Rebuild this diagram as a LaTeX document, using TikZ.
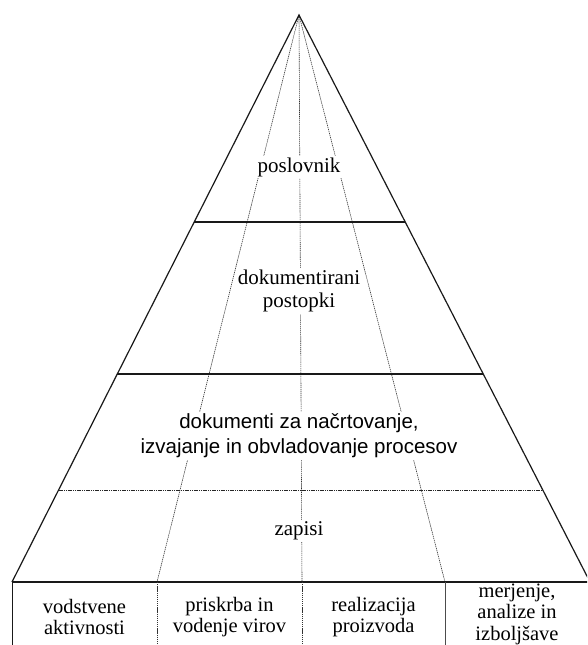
\documentclass[tikz,border=0pt]{standalone}
\usepackage{fontspec}
\setmainfont{Liberation Serif}
\newfontfamily\sansf{Liberation Sans}
\usetikzlibrary{calc}
\begin{document}
\begin{tikzpicture}[x=1pt,y=-1pt,
  edge/.style={line width=1.2pt,black!90},
  ray/.style={line width=0.6pt,black!80,dash pattern=on 1.3pt off 0.8pt},
  dotline/.style={line width=0.9pt,black!85,dash pattern=on 1.2pt off 0.6pt},
  thinsolid/.style={line width=0.7pt,black!70},
  lbl/.style={fill=white,inner sep=1.5pt,align=center,font=\fontsize{21}{23}\selectfont},
  slbl/.style={fill=white,inner sep=1.5pt,align=center,font=\sansf\fontsize{20.5}{25}\selectfont},
  cell/.style={inner sep=0pt,align=center,font=\fontsize{20.5}{21.5}\selectfont}]
\useasboundingbox (0,0) rectangle (587,645);
\fill[white] (0,0) rectangle (587,645);
\begin{scope}
\clip (0,0) rectangle (587,645);
% key points
\coordinate (apex) at (299,15);
\coordinate (bl) at (12,582);
\coordinate (br) at (590,582);
\coordinate (r1) at (157,582);
\coordinate (r2) at (302,582);
\coordinate (r3) at (445,582);
\coordinate (b0) at (12,645);
\coordinate (b1) at (157,645);
\coordinate (b2) at (302,645);
\coordinate (b3) at (445,645);
\coordinate (l1) at ($(apex)!0.3651!(bl)$);
\coordinate (m1) at ($(apex)!0.3651!(br)$);
\coordinate (l2) at ($(apex)!0.6332!(bl)$);
\coordinate (m2) at ($(apex)!0.6332!(br)$);
\coordinate (l3) at ($(apex)!0.8377!(bl)$);
\coordinate (m3) at ($(apex)!0.8377!(br)$);
% rays
\draw[ray] (apex) -- (r1);
\draw[ray] (apex) -- (r2);
\draw[ray] (apex) -- (r3);
% level texts
\node[lbl] (t1) at (299,167) {poslovnik};
\node[lbl] (t2) at (299,291) {dokumentirani\\postopki};
\node[slbl] (t3) at (299,436) {dokumenti za načrtovanje,\\izvajanje in obvladovanje procesov};
\node[lbl] (t4) at (299,531) {zapisi};
% outline and levels
\draw[edge] (bl) -- (apex) -- (br);
\draw[edge] (l1) -- (m1);
\draw[edge] (l2) -- (m2);
\draw[dotline] (l3) -- (m3);
\draw[edge] (bl) -- (br);
% bottom table
\draw[edge,line width=0.9pt] (bl) -- (b0);
\draw[ray] (r1) -- (b1);
\draw[ray] (r2) -- (b2);
\draw[thinsolid] (r3) -- (b3);
\node[cell] (c1) at (84.5,617) {vodstvene\\aktivnosti};
\node[cell] (c2) at (229.5,617) {priskrba in\\vodenje virov};
\node[cell] (c3) at (373.5,617) {realizacija\\proizvoda};
\node[cell] (c4) at (517,614) {merjenje,\\analize in\\izboljšave};
\end{scope}
\end{tikzpicture}
\end{document}
